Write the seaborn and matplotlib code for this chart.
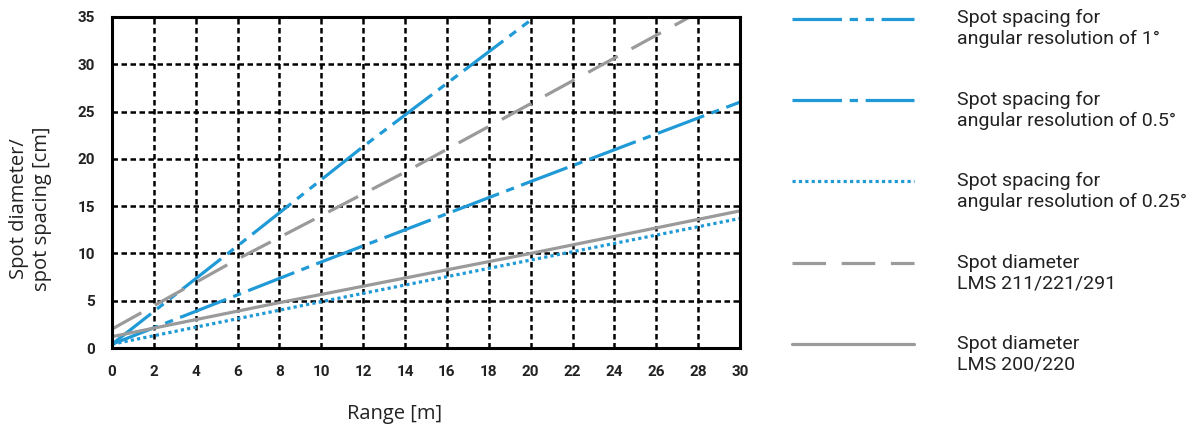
import numpy as np
import pandas as pd
import seaborn as sns
import matplotlib.pyplot as plt

# Range [m] vs spot diameter / spacing [cm]
labels = [
    "Spot spacing for\nangular resolution of 1°",
    "Spot spacing for\nangular resolution of 0.5°",
    "Spot spacing for\nangular resolution of 0.25°",
    "Spot diameter\nLMS 211/221/291",
    "Spot diameter\nLMS 200/220",
]
x_1deg = [0, 6, 12, 20.2]
y_1deg = [0.4, 10.8, 21.3, 35.0]
x_05deg = [0, 10, 20, 30]
y_05deg = [0.4, 9.1, 17.6, 26.0]
x_025deg = [0, 10, 20, 30]
y_025deg = [0.4, 4.9, 9.3, 13.7]
x_lms211 = [0, 6, 14, 27.6]
y_lms211 = [2.0, 9.4, 18.6, 35.0]
x_lms200 = [0, 8, 20, 30]
y_lms200 = [1.2, 4.8, 10.0, 14.5]

xs = [x_1deg, x_05deg, x_025deg, x_lms211, x_lms200]
ys = [y_1deg, y_05deg, y_025deg, y_lms211, y_lms200]
frames = [pd.DataFrame({"range": x, "value": y, "series": lab})
          for x, y, lab in zip(xs, ys, labels)]
df = pd.concat(frames, ignore_index=True)

blue = "#1f9ad6"
grey = "#9a9a9a"
palette = dict(zip(labels, [blue, blue, blue, grey, grey]))
dashes = dict(zip(labels, [(15.5, 2.4, 2.6, 2.4, 2.6, 2.4),
                           (15.5, 2.4, 2.6, 2.4),
                           (1.0, 1.0),
                           (10.5, 4.9),
                           ""]))

sns.set_style("white")
plt.rcParams["font.family"] = ["Roboto", "DejaVu Sans"]

fig = plt.figure(figsize=(11.91, 4.25), dpi=100)
ax = fig.add_axes([112 / 1191, 1 - 348 / 425, 628 / 1191, 331 / 425])

sns.lineplot(data=df, x="range", y="value", hue="series", style="series",
             palette=palette, dashes=dashes, linewidth=2.3, sort=False,
             estimator=None, legend=False, ax=ax)

ax.set_xlim(0, 30)
ax.set_ylim(0, 35)
ax.set_xticks(np.arange(0, 31, 2))
ax.set_yticks(np.arange(0, 36, 5))
ax.grid(True, color="black", linestyle=(0, (2.2, 1.4)), linewidth=1.8)
for s in ax.spines.values():
    s.set_color("black")
    s.set_linewidth(2.2)
ax.tick_params(axis="both", direction="out", length=6, width=2, color="black",
               labelsize=11, pad=6)
for t in ax.get_xticklabels() + ax.get_yticklabels():
    t.set_fontweight("bold")
    t.set_color("#222222")
ax.set_xlabel("Range [m]", fontsize=14.5, color="#222222", family="Open Sans")
ax.set_ylabel("Spot diameter/\nspot spacing [cm]", fontsize=14.5,
              color="#222222", family="Open Sans")
ax.xaxis.set_label_coords(0.45, -0.17)
ax.yaxis.set_label_coords(-0.095, 0.42)

# blank first line so the key sits level with the label's first line
leg_labels = ["\n" + lab for lab in labels]
handles = ax.get_lines()[:5]
fig.legend(handles, leg_labels, loc="upper left",
           bbox_to_anchor=(774 / 1191, 1 + 29 / 425), frameon=False,
           fontsize=14, handlelength=6.3, handletextpad=2.2,
           labelspacing=1.11, labelcolor="#222222")

fig.savefig("out.png", dpi=100)
